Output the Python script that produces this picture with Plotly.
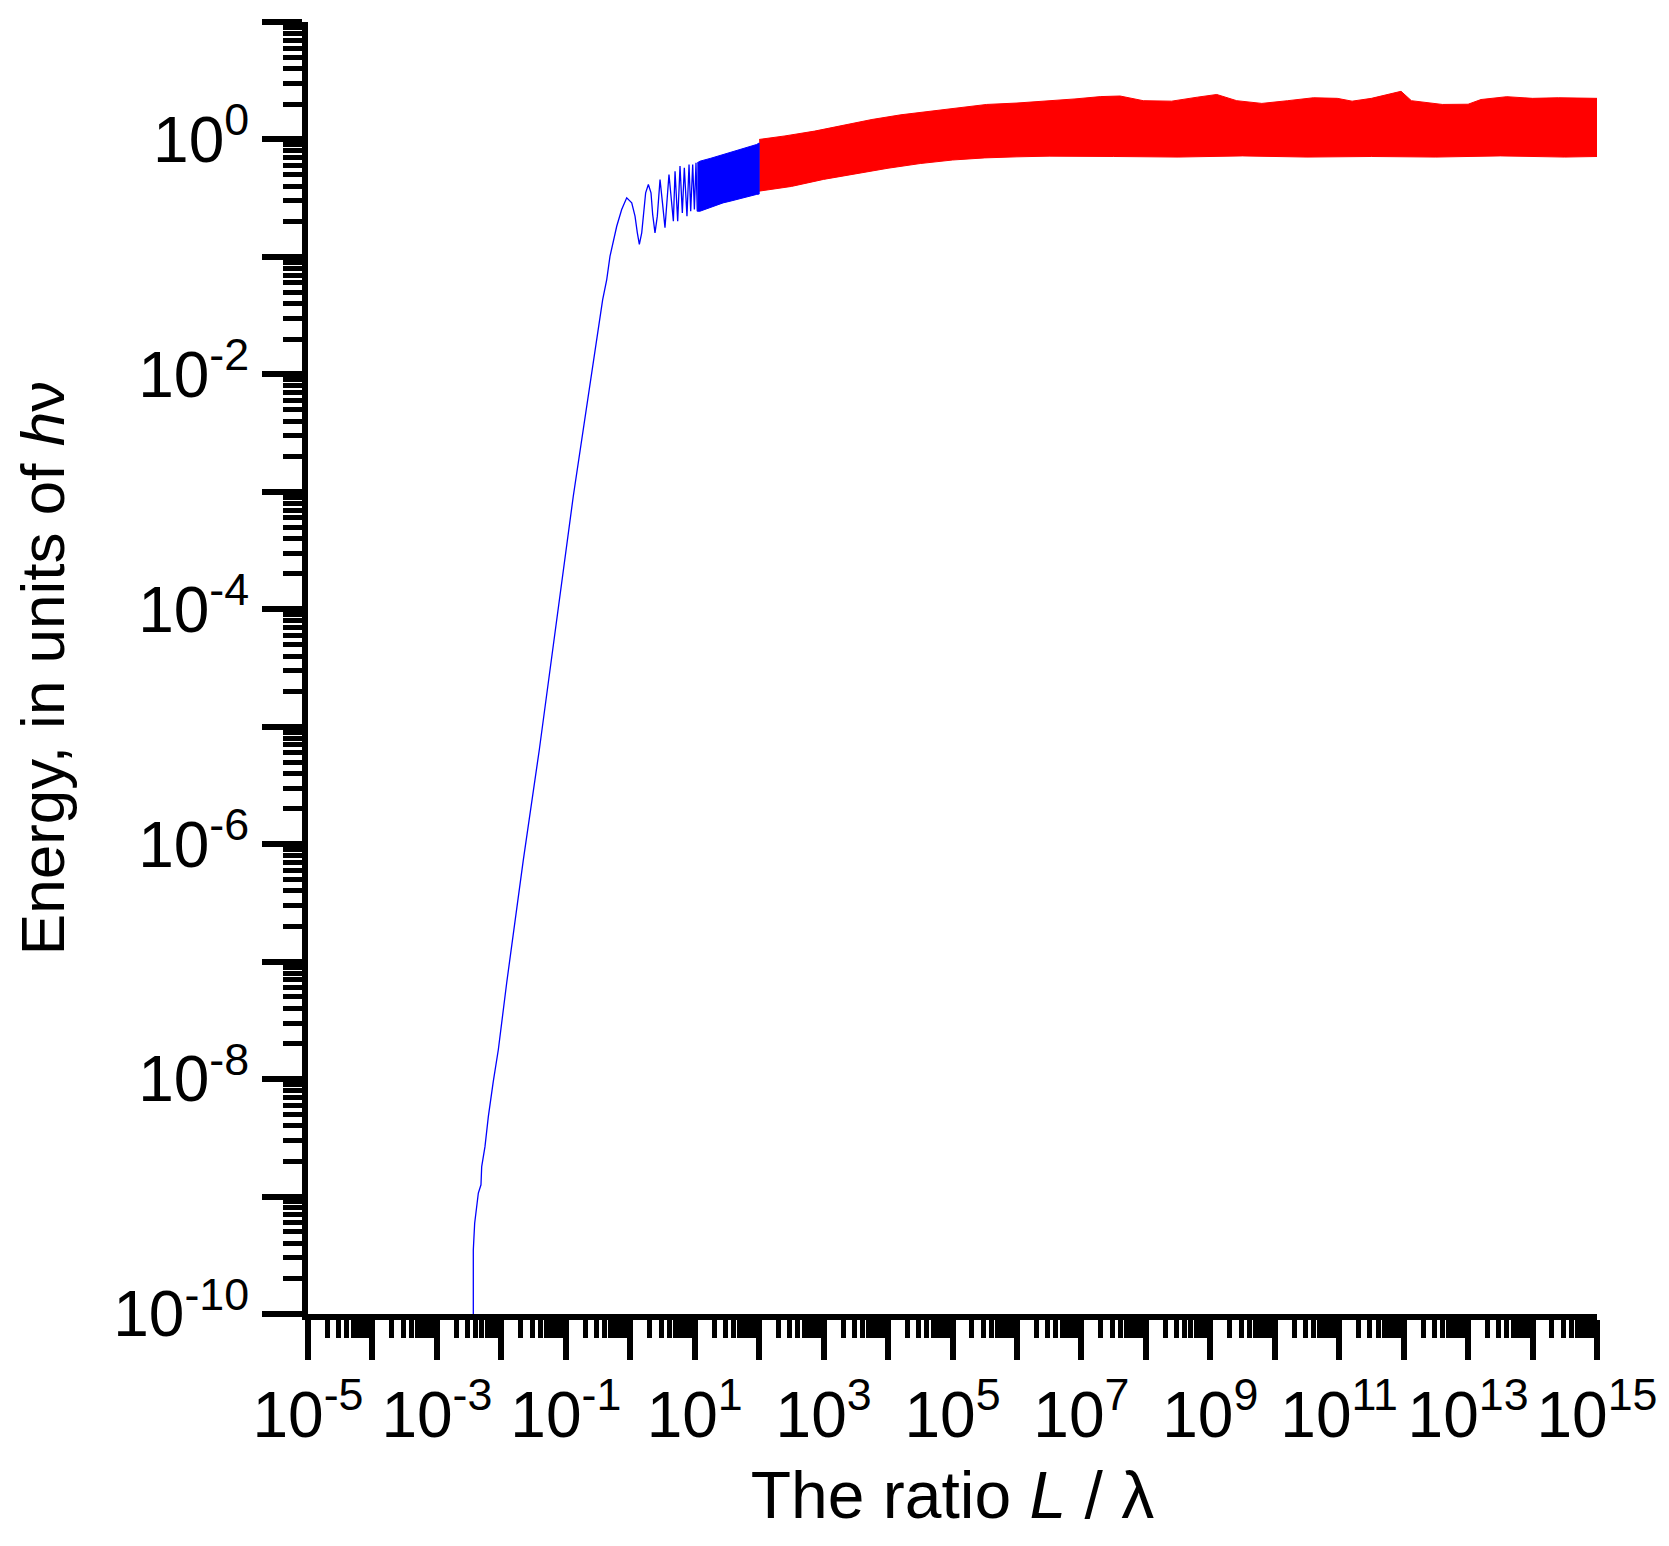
import plotly.graph_objects as go

# ---------------- data (stored as log10 values) ----------------
# Blue curve: steep rise and first resolved oscillations (log10 x, log10 y)
blue_curve_logx = [-2.435, -2.435, -2.414, -2.393, -2.357, -2.316, -2.305, -2.254, -2.202, -2.125,
                   -2.047, -1.917, -1.659, -1.411, -0.884, -0.428, -0.365, -0.314, -0.210, -0.133,
                   -0.055, 0.023, 0.074, 0.110, 0.141, 0.178, 0.213, 0.239, 0.281, 0.322,
                   0.348, 0.384, 0.420, 0.462, 0.500, 0.539, 0.601, 0.669, 0.695, 0.736,
                   0.772, 0.808, 0.839, 0.880, 0.912, 0.938, 0.969, 0.995, 1.020, 1.040]
blue_curve_logy = [-10.0, -9.455, -9.227, -9.13, -8.97, -8.90, -8.745, -8.575, -8.32, -8.02,
                   -7.75, -7.18, -6.133, -5.196, -3.038, -1.363, -1.193, -0.994, -0.739, -0.596,
                   -0.497, -0.54, -0.653, -0.795, -0.894, -0.795, -0.625, -0.454, -0.383, -0.454,
                   -0.639, -0.795, -0.653, -0.341, -0.54, -0.752, -0.298, -0.696, -0.27, -0.696,
                   -0.227, -0.625, -0.241, -0.653, -0.213, -0.611, -0.213, -0.597, -0.199, -0.611]

# Blue dense oscillation band (envelopes), 10 < x < 100
blue_band_logx = [1.04, 1.082, 1.25, 1.44, 1.548, 1.65, 1.85, 1.96, 2.0]
blue_band_upper = [-0.199, -0.185, -0.16, -0.128, -0.113, -0.09, -0.06, -0.043, -0.03]
blue_band_lower = [-0.611, -0.611, -0.575, -0.54, -0.526, -0.51, -0.485, -0.468, -0.465]

# Red dense oscillation band (envelopes), 100 < x < 1e15
red_upper_logx = [2.0, 2.4, 2.86, 3.3, 3.75, 4.2, 4.65, 5.1, 5.53, 6.0, 6.43, 6.9, 7.3, 7.6,
                  7.96, 8.4, 8.8, 9.1, 9.41, 9.8, 10.2, 10.6, 10.97, 11.2, 11.5, 11.96, 12.12,
                  12.6, 13.0, 13.2, 13.6, 14.0, 14.4, 15.0]
red_upper_logy = [0.0, 0.03, 0.071, 0.12, 0.17, 0.21, 0.241, 0.27, 0.298, 0.31, 0.326, 0.345,
                  0.365, 0.37, 0.33, 0.326, 0.36, 0.383, 0.33, 0.307, 0.33, 0.355, 0.35, 0.326,
                  0.35, 0.41, 0.33, 0.298, 0.30, 0.34, 0.364, 0.35, 0.355, 0.35]
red_lower_logx = [2.0, 2.5, 3.0, 3.5, 4.0, 4.5, 5.0, 5.5, 6.0, 6.5, 7.5, 8.5, 9.5, 10.5,
                  11.5, 12.5, 13.5, 14.5, 15.0]
red_lower_logy = [-0.44, -0.40, -0.34, -0.29, -0.245, -0.205, -0.175, -0.157, -0.148, -0.142,
                  -0.145, -0.15, -0.14, -0.15, -0.145, -0.15, -0.14, -0.15, -0.145]

# Tick positions (decades)
x_decades = list(range(-5, 16))
x_labelled = [-5, -3, -1, 1, 3, 5, 7, 9, 11, 13, 15]
y_decades = list(range(-10, 2))
y_labelled = [0, -2, -4, -6, -8, -10]
minor_digits = [2, 3, 4, 5, 6, 7, 8, 9]

# ---------------- figure ----------------
def p10(v):
    return [10 ** a for a in v]

BLUE = "#0000FF"
RED = "#FF0000"

fig = go.Figure()

# red band polygon
fig.add_trace(go.Scatter(
    x=p10(red_upper_logx + red_lower_logx[::-1]),
    y=p10(red_upper_logy + red_lower_logy[::-1]),
    mode="lines", fill="toself", fillcolor=RED,
    line=dict(color=RED, width=1), hoverinfo="skip", showlegend=False))

# blue band polygon
fig.add_trace(go.Scatter(
    x=p10(blue_band_logx + blue_band_logx[::-1]),
    y=p10(blue_band_upper + blue_band_lower[::-1]),
    mode="lines", fill="toself", fillcolor=BLUE,
    line=dict(color=BLUE, width=1), hoverinfo="skip", showlegend=False))

# blue curve
fig.add_trace(go.Scatter(
    x=p10(blue_curve_logx), y=p10(blue_curve_logy),
    mode="lines", line=dict(color=BLUE, width=1.3), showlegend=False))

def sup(e):
    return "10<sup>%d</sup>" % e

x_tickvals = [10.0 ** d for d in x_decades]
x_ticktext = [sup(d) if d in x_labelled else "" for d in x_decades]
y_tickvals = [10.0 ** d for d in y_decades]
y_ticktext = [sup(d) if d in y_labelled else "" for d in y_decades]
x_minor = [m * 10.0 ** d for d in x_decades[:-1] for m in minor_digits]
y_minor = [m * 10.0 ** d for d in y_decades[:-1] for m in minor_digits]

FONT = "Liberation Sans, Arial, sans-serif"

fig.update_layout(
    width=1669, height=1546,
    margin=dict(l=300, r=80, t=14, b=240),
    paper_bgcolor="white", plot_bgcolor="white",
    font=dict(family=FONT, color="black", size=62),
    showlegend=False,
)

fig.update_xaxes(
    type="log", range=[-5, 15], automargin=False,
    tickmode="array", tickvals=x_tickvals, ticktext=x_ticktext,
    ticks="outside", ticklen=40, tickwidth=6, tickcolor="black",
    tickfont=dict(size=64, family=FONT),
    minor=dict(tickmode="array", tickvals=x_minor, ticks="outside",
               ticklen=18, tickwidth=5, tickcolor="black", showgrid=False),
    showline=True, linewidth=6, linecolor="black",
    showgrid=False, zeroline=False,
    title=dict(text="The ratio <i>L</i> / λ\u00a0", font=dict(size=66, family=FONT), standoff=24),
)
fig.update_yaxes(
    type="log", range=[-10, 1], automargin=False,
    tickmode="array", tickvals=y_tickvals, ticktext=y_ticktext,
    ticks="outside", ticklen=40, tickwidth=6, tickcolor="black",
    tickfont=dict(size=64, family=FONT),
    minor=dict(tickmode="array", tickvals=y_minor, ticks="outside",
               ticklen=19, tickwidth=5, tickcolor="black", showgrid=False),
    showline=True, linewidth=6, linecolor="black",
    showgrid=False, zeroline=False,
    title=dict(text="Energy, in units of <i>h</i>ν", font=dict(size=62, family=FONT), standoff=40),
)

fig.write_html("out.html")
